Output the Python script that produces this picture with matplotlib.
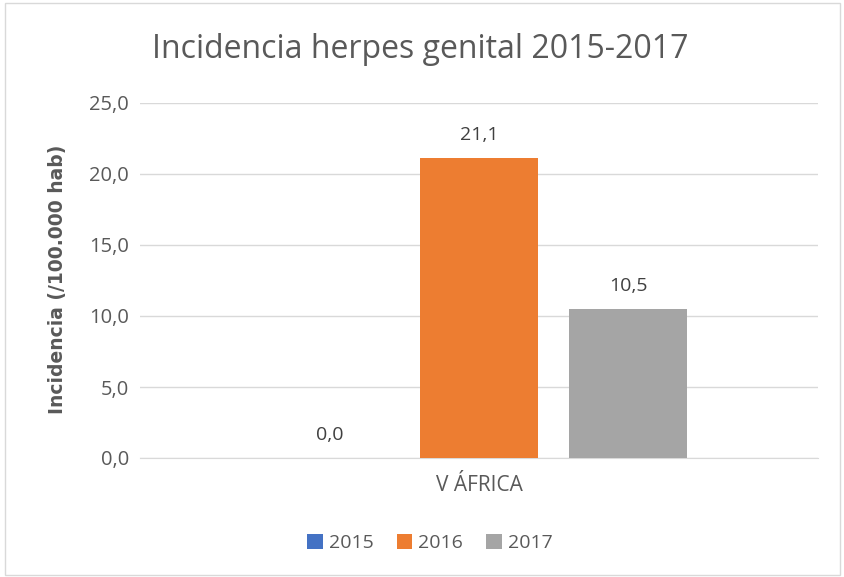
import matplotlib.pyplot as plt
import matplotlib as mpl
from matplotlib.patches import Rectangle

mpl.rcParams.update({"font.family": ["Open Sans", "DejaVu Sans"]})

categories = ["V ÁFRICA"]
years = ["2015", "2016", "2017"]
values = [0.0, 21.1, 10.5]
colors = ["#4472C4", "#ED7D31", "#A5A5A5"]
yticks = [0, 5, 10, 15, 20, 25]

TXT = "#595959"


def fmt(v):
    return f"{v:.1f}".replace(".", ",")


fig = plt.figure(figsize=(8.45, 5.77), dpi=100)
ax = fig.add_axes([140 / 845, 1 - 458 / 577, 678 / 845, 355 / 577])

width = 0.174
step = 0.22
for i, (yr, v, c) in enumerate(zip(years, values, colors)):
    x = (i - 1) * step
    ax.bar(x, v, width=width, color=c, label=yr, zorder=3)
    ax.annotate(fmt(v), (x, v), xytext=(0, 10), textcoords="offset points",
                ha="center", va="bottom", fontsize=14, color="#404040")

ax.set_xlim(-0.5, 0.5)
ax.set_ylim(0, 25)
ax.set_yticks(yticks)
ax.set_yticklabels([fmt(t) for t in yticks], fontsize=14.5, color=TXT)
ax.set_xticks([0])
ax.set_xticklabels(categories, fontsize=15, color=TXT)
ax.tick_params(length=0, pad=8)
ax.tick_params(axis="x", pad=12)
ax.grid(axis="y", color="#D9D9D9", lw=1, zorder=0)
for s in ["top", "right", "left"]:
    ax.spines[s].set_visible(False)
ax.spines["bottom"].set_color("#D9D9D9")

fig.text(58 / 845, 1 - 279 / 577, "Incidencia (/100.000 hab)",
         rotation=90, ha="center", va="center", fontsize=13.5,
         fontweight="bold", color=TXT, family="DejaVu Sans")

fig.text(420 / 845, 1 - 50 / 577, "Incidencia herpes genital 2015-2017",
         ha="center", va="center", fontsize=23, color=TXT)

fig.legend(loc="center", bbox_to_anchor=(430 / 845, 1 - 543 / 577), ncol=3,
           frameon=False, fontsize=14, labelcolor=TXT, handlelength=0.8,
           handleheight=0.8, columnspacing=1.2, handletextpad=0.3)

fig.patches.append(Rectangle((5 / 845, 2 / 577), 835 / 845, 572 / 577,
                             transform=fig.transFigure, fill=False,
                             edgecolor="#D9D9D9", lw=1))

fig.savefig("out.png", dpi=100, facecolor="white")
